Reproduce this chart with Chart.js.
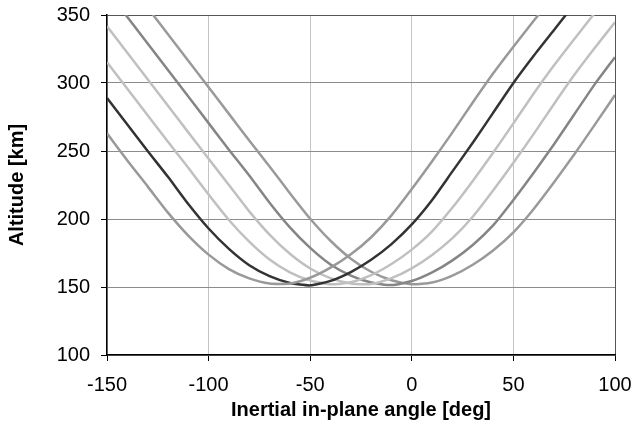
<!DOCTYPE html>
<html>
<head>
<meta charset="utf-8">
<script src="https://cdn.jsdelivr.net/npm/chart.js@4"></script>
<style>
  body { margin: 0; background: #fff; }
  canvas { display: block; }
</style>
</head>
<body>
<canvas id="chart" width="632" height="430"></canvas>
<script>
// inertial in-plane angle, deg
const angles = [-150, -140, -130, -120, -110, -100, -90, -80, -70, -60, -50, -40, -30,
  -20, -10, 0, 10, 20, 30, 40, 50, 60, 70, 80, 90, 100]

// altitude curves, km
const altA = [263, 243, 224, 204.7, 187.8, 173.8, 163.2, 156.3, 152.5, 152.5, 156.8, 164.2, 174,
  186.6, 202.7, 222, 242.4, 263.7, 285.7, 307, 326.7, 345.7, 364.7, 384, 403, 422]
const altB = [289, 269.5, 250, 231, 211, 193, 178, 166, 158, 153, 151.2, 154.5, 161,
  170, 181.5, 196, 214, 235, 256, 278, 300, 320, 339, 358, 377, 396]
const altC = [315.3, 295.8, 276.3, 256.8, 237.7, 218, 199.3, 183.3, 170.2, 160.8, 154.8, 152, 153.5,
  158.7, 166.9, 177.5, 190.9, 208.4, 228, 248.7, 270.3, 292.3, 313, 332.4, 351.4, 370.4]
const altD = [341.7, 322.2, 302.7, 283.2, 263.7, 244.3, 225, 205.6, 188.5, 174.4, 163.6, 156.5, 152.5,
  152.2, 156.5, 163.7, 173.5, 185.9, 201.7, 221, 241.3, 262.6, 284.6, 306, 325.7, 344.7]
const altE = [368, 348.5, 329, 309.5, 290, 270.5, 251, 232, 212, 193.9, 178.8, 166.6, 158.4,
  153.3, 151.4, 154.4, 160.7, 169.6, 180.9, 195.3, 214, 234, 255, 277, 299, 319]
const altF = [394, 374.6, 355.3, 335.8, 316.3, 296.8, 277.3, 257.8, 238.6, 219, 200.2, 184, 170.8,
  161.2, 155, 152, 153.3, 158.4, 166.4, 176.9, 190.2, 207.4, 227, 247.6, 269.2, 291.2]

const xTicks = [-150, -100, -50, 0, 50, 100]
const yTicks = [100, 150, 200, 250, 300, 350]

const curves = [
  { alt: altA, color: "#999999" },
  { alt: altB, color: "#333333" },
  { alt: altC, color: "#c0c0c0" },
  { alt: altD, color: "#c0c0c0" },
  { alt: altE, color: "#858585" },
  { alt: altF, color: "#9a9a9a" }
]

Chart.defaults.font.family = "'Liberation Sans', Arial, sans-serif"
Chart.defaults.color = "#000"

// keep the plot box where the reference has it
function noPad(s) {
  s.paddingLeft = 0
  s.paddingRight = 0
  s.paddingTop = 0
  s.paddingBottom = 0
}

new Chart(document.getElementById("chart"), {
  type: "line",
  data: {
    datasets: curves.map(c => ({
      data: angles.map((a, i) => ({ x: a, y: c.alt[i] })),
      borderColor: c.color,
      borderWidth: 2.5,
      pointRadius: 0,
      tension: 0.2,
      fill: false
    }))
  },
  options: {
    responsive: false,
    animation: false,
    layout: { padding: { top: 15, right: 17, left: 0, bottom: 0 } },
    plugins: { legend: { display: false }, tooltip: { enabled: false } },
    scales: {
      x: {
        type: "linear",
        min: xTicks[0],
        max: xTicks[xTicks.length - 1],
        afterBuildTicks: s => { s.ticks = xTicks.map(v => ({ value: v })) },
        afterFit: s => { s.height = 75; noPad(s) },
        ticks: { font: { size: 20 }, padding: 12, maxRotation: 0 },
        grid: {
          color: ctx => ctx.tick && ctx.tick.value === 100 ? "#555" : "#c4c4c4",
          tickColor: "#000",
          tickLength: 6
        },
        border: { color: "#000", width: 1.5 },
        title: {
          display: true,
          text: "Inertial in-plane angle [deg]",
          font: { size: 20, weight: "bold" },
          padding: { top: 0, bottom: 8 }
        }
      },
      y: {
        min: yTicks[0],
        max: yTicks[yTicks.length - 1],
        afterBuildTicks: s => { s.ticks = yTicks.map(v => ({ value: v })) },
        afterFit: s => { s.width = 107; noPad(s) },
        ticks: { font: { size: 20 }, padding: 11 },
        grid: {
          color: ctx => ctx.tick && ctx.tick.value === 350 ? "#555" : "#8c8c8c",
          tickColor: "#000",
          tickLength: 6
        },
        border: { color: "#000", width: 1.5 },
        title: {
          display: true,
          text: "Altitude [km]",
          font: { size: 20, weight: "bold" },
          padding: { top: 5, bottom: 0 }
        }
      }
    }
  }
})
</script>
</body>
</html>
